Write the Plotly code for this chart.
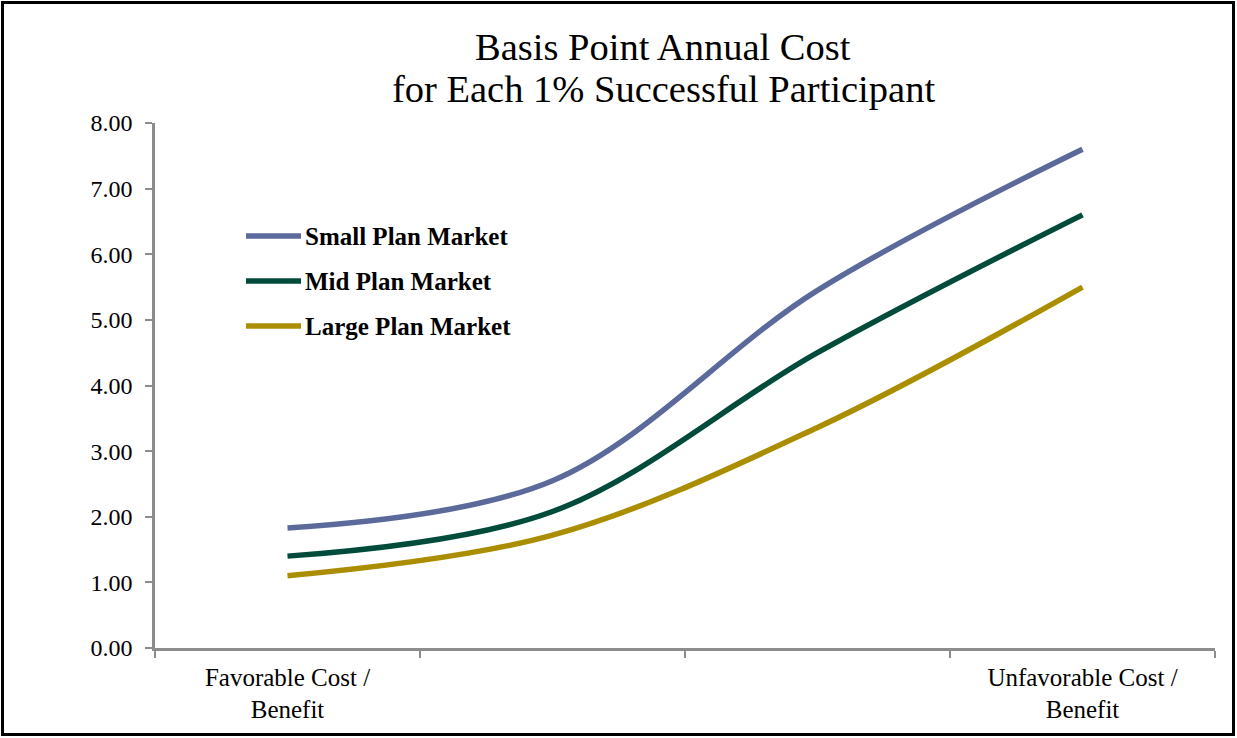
import plotly.graph_objects as go

# Cost positions along the x axis (four bands, labelled only at the ends)
categories = ["fav", "mid_low", "mid_high", "unfav"]
tick_labels = ["Favorable Cost /<br>Benefit", "", "", "Unfavorable Cost /<br>Benefit"]

# Basis point annual cost per 1% successful participant
series_names = ["Small Plan Market", "Mid Plan Market", "Large Plan Market"]
small_plan = [1.83, 2.55, 5.45, 7.60]
mid_plan = [1.40, 2.08, 4.50, 6.60]
large_plan = [1.10, 1.72, 3.36, 5.50]
series_values = [small_plan, mid_plan, large_plan]
series_colors = ["#5B6A9B", "#004B3A", "#AB8D00"]

title_lines = ["Basis Point Annual Cost", "for Each 1% Successful Participant"]

W, H = 1237, 738
ML, MR, MT, MB = 155, 22, 123, 90
PW, PH = W - ML - MR, H - MT - MB

FONT = "Liberation Serif"

fig = go.Figure()
for name, vals, col in zip(series_names, series_values, series_colors):
    fig.add_trace(go.Scatter(
        x=categories, y=vals, name=name, mode="lines",
        line=dict(color=col, width=5.5, shape="spline", smoothing=1.0),
        showlegend=False, hoverinfo="skip",
    ))


def px_to_paper_x(px):
    return (px - ML) / PW


def px_to_paper_y(py):
    return (H - MB - py) / PH


shapes = []
annotations = []

# chart title, two centred lines
for line, ty in zip(title_lines, [47, 89]):
    annotations.append(dict(
        xref="paper", yref="paper", x=px_to_paper_x(663), y=px_to_paper_y(ty),
        xanchor="center", yanchor="middle", showarrow=False, text=line,
        font=dict(family=FONT, size=38.5, color="#000000"),
    ))

# legend: line sample + label for each series
legend_y = [236, 281, 326]
for name, col, ly in zip(series_names, series_colors, legend_y):
    shapes.append(dict(
        type="line", xref="paper", yref="paper",
        x0=px_to_paper_x(246), x1=px_to_paper_x(301),
        y0=px_to_paper_y(ly), y1=px_to_paper_y(ly),
        line=dict(color=col, width=5.5),
    ))
    annotations.append(dict(
        xref="paper", yref="paper", x=px_to_paper_x(303), y=px_to_paper_y(ly),
        xanchor="left", yanchor="middle", showarrow=False, text=name,
        font=dict(family=FONT, size=25, color="#000000", weight="bold"),
    ))

# outer frame around the whole chart
shapes.append(dict(
    type="rect", xref="paper", yref="paper",
    x0=px_to_paper_x(2.5), x1=px_to_paper_x(W - 3.5),
    y0=px_to_paper_y(H - 3.5), y1=px_to_paper_y(2.5),
    line=dict(color="#000000", width=3), fillcolor="rgba(0,0,0,0)", layer="above",
))

fig.update_layout(
    width=W, height=H,
    margin=dict(l=ML, r=MR, t=MT, b=MB),
    paper_bgcolor="#FFFFFF", plot_bgcolor="#FFFFFF",
    font=dict(family=FONT, size=20, color="#000000"),
    shapes=shapes,
    annotations=annotations,
    xaxis=dict(
        type="category", categoryorder="array", categoryarray=categories,
        range=[-0.5, 3.5], tickmode="array", tickvals=categories, ticktext=tick_labels,
        tickson="boundaries", ticks="outside", ticklen=7, tickwidth=2, tickcolor="#8C8C8C",
        showline=True, linecolor="#8C8C8C", linewidth=2.5, showgrid=False, zeroline=False,
        tickfont=dict(family=FONT, size=25, color="#000000"),
        ticklabelstandoff=5,
    ),
    yaxis=dict(
        range=[0, 8], dtick=1, tickformat=".2f",
        ticks="outside", ticklen=7, tickwidth=2, tickcolor="#8C8C8C",
        showline=True, linecolor="#8C8C8C", linewidth=2.5, showgrid=False, zeroline=False,
        tickfont=dict(family=FONT, size=24, color="#000000"),
        ticklabelstandoff=8,
    ),
)

fig.write_html("out.html")
